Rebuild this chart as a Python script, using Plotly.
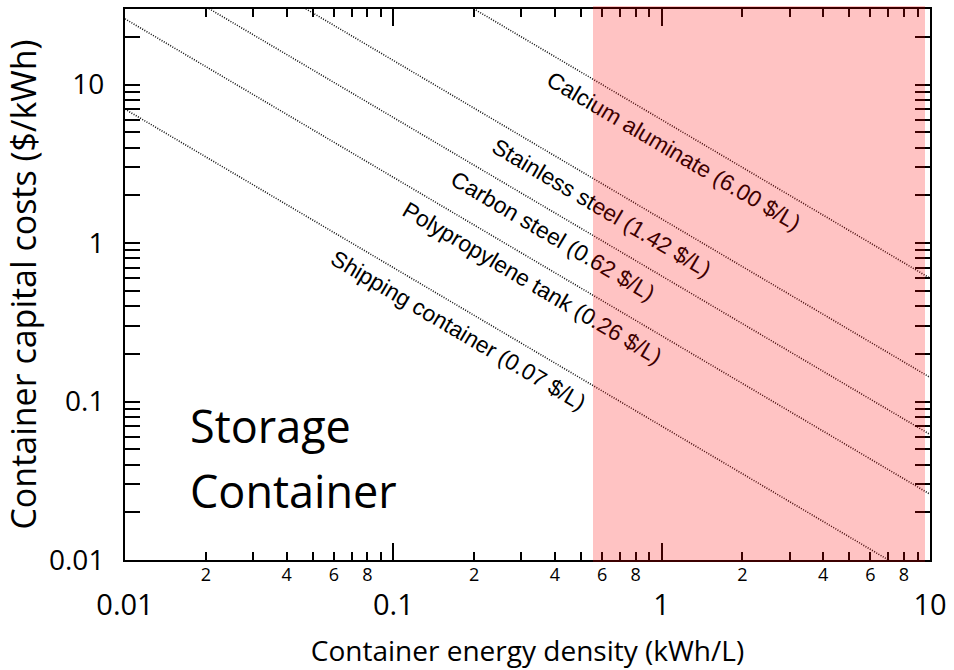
import math
import numpy as np
import plotly.graph_objects as go

# ---------------- data ----------------
materials = ["Shipping container", "Polypropylene tank", "Carbon steel",
             "Stainless steel", "Calcium aluminate"]
prices = [0.07, 0.26, 0.62, 1.42, 6.00]            # $/L
label_density = [0.1746, 0.330, 0.3946, 0.601, 1.112]  # kWh/L where each label sits
density_range = [0.01, 10]                          # kWh/L
cost_range = [0.01, 30]                             # $/kWh
highlight_range = [0.556, 9.5]                      # shaded region, kWh/L

x_major = [0.01, 0.1, 1, 10]
x_major_text = ["0.01", "0.1", "1", "10"]
x_minor_labelled = [m * d for d in (0.01, 0.1, 1) for m in (2, 4, 6, 8)]
x_minor_text = ["2", "4", "6", "8"] * 3
y_major = [0.01, 0.1, 1, 10]
y_major_text = ["0.01", "0.1", "1", "10"]

# ---------------- layout geometry ----------------
W, H = 954, 670
ML, MR, MT, MB = 125, 21, 7, 110
PW, PH = W - ML - MR, H - MT - MB

xr = [math.log10(v) for v in density_range]
yr = [math.log10(v) for v in cost_range]
px_per_dec_x = PW / (xr[1] - xr[0])
px_per_dec_y = PH / (yr[1] - yr[0])
angle = math.degrees(math.atan(px_per_dec_y / px_per_dec_x))

x_minor_all = [m * d for d in (0.01, 0.1, 1) for m in range(2, 10)]
y_minor_all = [m * d for d in (0.01, 0.1, 1) for m in range(2, 10)] + [20]

fig = go.Figure()

dens = np.array(density_range, dtype=float)
for name, p in zip(materials, prices):
    fig.add_trace(go.Scatter(
        x=dens, y=p / dens, mode="lines", name=name, showlegend=False,
        line=dict(color="#111111", width=1.6, dash="1px,1.5px"),
        hoverinfo="skip"))

TICK_FONT = "Open Sans, Noto Sans, sans-serif"

fig.update_layout(
    width=W, height=H,
    margin=dict(l=ML, r=MR, t=MT, b=MB, pad=0),
    paper_bgcolor="white", plot_bgcolor="white",
    showlegend=False,
    xaxis=dict(
        type="log", range=xr, showline=True, linecolor="black", linewidth=2,
        mirror="allticks", ticks="inside", ticklen=17, tickwidth=1.5,
        tickcolor="black", tickvals=x_major, ticktext=x_major_text,
        tickfont=dict(family=TICK_FONT, size=29, color="black"),
        ticklabelstandoff=18,
        showgrid=False, zeroline=False,
        minor=dict(tickvals=x_minor_all, ticks="inside", ticklen=8,
                   tickwidth=1.5, tickcolor="black", showgrid=False),
        title=dict(text="Container energy density (kWh/L)",
                   font=dict(family=TICK_FONT, size=28, color="black"),
                   standoff=20),
    ),
    xaxis2=dict(
        type="log", range=xr, overlaying="x", anchor="y", side="bottom",
        showline=False, ticks="", tickvals=x_minor_labelled,
        ticktext=x_minor_text,
        tickfont=dict(family=TICK_FONT, size=18, color="black"),
        ticklabelstandoff=2,
        showgrid=False, zeroline=False,
    ),
    yaxis=dict(
        type="log", range=yr, showline=True, linecolor="black", linewidth=2,
        mirror="allticks", ticks="inside", ticklen=15, tickwidth=1.5,
        tickcolor="black", tickvals=y_major, ticktext=y_major_text,
        tickfont=dict(family=TICK_FONT, size=28, color="black"),
        ticklabelstandoff=13,
        showgrid=False, zeroline=False,
        minor=dict(tickvals=y_minor_all, ticks="inside", ticklen=8,
                   tickwidth=1.5, tickcolor="black", showgrid=False),
        title=dict(text="Container capital costs ($/kWh)",
                   font=dict(family=TICK_FONT, size=34, color="black"),
                   standoff=6),
    ),
)

# dummy invisible trace so xaxis2 is drawn
fig.add_trace(go.Scatter(x=[], y=[], xaxis="x2", yaxis="y", showlegend=False))

# line labels
for name, p, lx in zip(materials, prices, label_density):
    fig.add_annotation(
        x=math.log10(lx), y=math.log10(p / lx), xref="x", yref="y",
        text=f"{name} ({p:.2f} $/L)", textangle=angle, showarrow=False,
        yshift=-24,
        font=dict(family="Liberation Sans, Arial, sans-serif", size=22.7,
                  color="black"))

# region title
fig.add_annotation(xref="paper", yref="paper", x=(188 - ML) / PW,
                   y=(MT + PH - 425) / PH, xanchor="left", yanchor="middle",
                   text="Storage", showarrow=False,
                   font=dict(family=TICK_FONT, size=45, color="black"))
fig.add_annotation(xref="paper", yref="paper", x=(188 - ML) / PW,
                   y=(MT + PH - 490) / PH, xanchor="left", yanchor="middle",
                   text="Container", showarrow=False,
                   font=dict(family=TICK_FONT, size=45, color="black"))

# translucent red overlay (drawn last so it tints the labels beneath it)
hx0 = math.log10(highlight_range[0])
hx1 = math.log10(highlight_range[1])
fig.add_annotation(
    xref="x", yref="paper", x=hx0, y=1, xanchor="left", yanchor="top",
    text=" ", showarrow=False, width=(hx1 - hx0) * px_per_dec_x,
    height=PH + 3, yshift=3, borderpad=0, borderwidth=0,
    bgcolor="rgba(255,0,0,0.235)")

fig.write_html("out.html")
